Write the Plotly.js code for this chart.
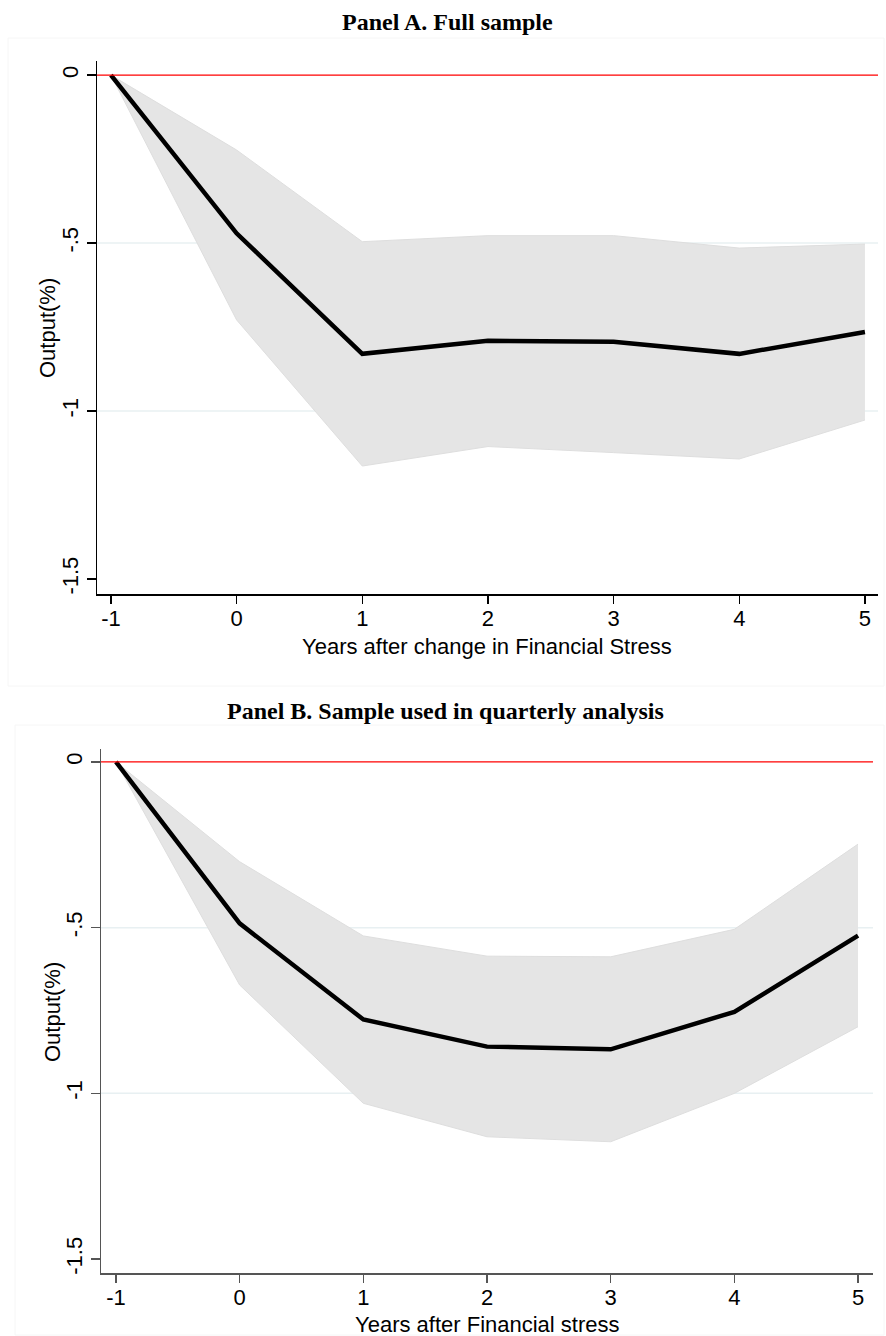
<!DOCTYPE html>
<html>
<head>
<meta charset="utf-8">
<script src="https://cdn.plot.ly/plotly-3.0.1.min.js"></script>
<style>html,body{margin:0;padding:0;background:#fff;}#chart{width:886px;height:1336px;}</style>
</head>
<body>
<div id="chart"></div>
<script>
// Horizon (years)
const years = [-1, 0, 1, 2, 3, 4, 5];
const yTickVals = [0, -0.5, -1, -1.5];
const yTickText = ["0", "-.5", "-1", "-1.5"];

// Panel A: Full sample
const aMean  = [0, -0.471, -0.830, -0.791, -0.794, -0.830, -0.765];
const aUpper = [0, -0.223, -0.496, -0.478, -0.478, -0.515, -0.503];
const aLower = [0, -0.729, -1.164, -1.106, -1.124, -1.143, -1.027];

// Panel B: Sample used in quarterly analysis
const bMean  = [0, -0.487, -0.777, -0.859, -0.867, -0.754, -0.524];
const bUpper = [0, -0.301, -0.525, -0.586, -0.588, -0.505, -0.248];
const bLower = [0, -0.673, -1.030, -1.131, -1.146, -1.000, -0.799];

const W = 886, H = 1336;
const bandFill = "#e5e5e5", bandEdge = "#dedede";
const gridCol = "#e8f0f2";
const tickFont = {family: "Liberation Sans, Arial, sans-serif", size: 22, color: "#000"};
const labFont = {family: "Liberation Sans, Arial, sans-serif", size: 22, color: "#000"};

function bandTraces(lower, upper, mean, xa, ya) {
  return [
    {x: years, y: lower, xaxis: xa, yaxis: ya, mode: "lines", line: {color: bandEdge, width: 1}, hoverinfo: "skip", showlegend: false},
    {x: years, y: upper, xaxis: xa, yaxis: ya, mode: "lines", line: {color: bandEdge, width: 1}, fill: "tonexty", fillcolor: bandFill, hoverinfo: "skip", showlegend: false},
    {x: years, y: mean, xaxis: xa, yaxis: ya, mode: "lines", line: {color: "#000", width: 4.5}, showlegend: false}
  ];
}

const data = [].concat(
  bandTraces(aLower, aUpper, aMean, "x", "y"),
  bandTraces(bLower, bUpper, bMean, "x2", "y2")
);

function xAxis(domain, range, lineCol, anchor) {
  return {
    domain: domain, range: range, anchor: anchor,
    tickvals: years, ticktext: years.map(String),
    ticks: "outside", ticklen: 8, tickwidth: 1.3, tickcolor: lineCol,
    ticklabelstandoff: -4,
    showline: true, linecolor: lineCol, linewidth: 1.5,
    showgrid: false, zeroline: false, tickfont: tickFont
  };
}
function yAxis(domain, range, lineCol, anchor) {
  return {
    domain: domain, range: range, anchor: anchor,
    tickvals: yTickVals, ticktext: yTickText, tickangle: -90,
    ticks: "outside", ticklen: 9, tickwidth: 1.3, tickcolor: lineCol,
    showline: true, linecolor: lineCol, linewidth: 1.5,
    showgrid: false, zeroline: false, tickfont: tickFont
  };
}

const shapes = [];
function panelShapes(xr, yr) {
  [-0.5, -1].forEach(v => shapes.push({type: "line", layer: "below", xref: xr + " domain", x0: 0, x1: 1, yref: yr, y0: v, y1: v, line: {color: gridCol, width: 1.5}}));
  shapes.push({type: "line", layer: "above", xref: xr + " domain", x0: 0, x1: 1, yref: yr, y0: 0, y1: 0, line: {color: "#ff0000", width: 1.3}});
}
panelShapes("x", "y");
panelShapes("x2", "y2");
// faint outer graph-region boxes
shapes.push({type: "rect", xref: "paper", yref: "paper", x0: 8/W, x1: 884/W, y0: 1 - 686/H, y1: 1 - 38/H, line: {color: "#f6f6f6", width: 1}, layer: "below"});
shapes.push({type: "rect", xref: "paper", yref: "paper", x0: 15/W, x1: 884/W, y0: 1 - 1335/H, y1: 1 - 725/H, line: {color: "#f6f6f6", width: 1}, layer: "below"});

const titleFont = {family: "Liberation Serif, Times New Roman, serif", size: 24, color: "#000"};
function note(text, px, py, font, angle) {
  return {text: text, xref: "paper", yref: "paper", x: px/W, y: 1 - py/H, showarrow: false, font: font, xanchor: "center", yanchor: "middle", textangle: angle || 0};
}

const layout = {
  width: W, height: H,
  margin: {l: 0, r: 0, t: 0, b: 0},
  paper_bgcolor: "#fff", plot_bgcolor: "rgba(0,0,0,0)",
  showlegend: false,
  xaxis:  xAxis([97/W, 878/W], [-1.111, 5.104], "#000", "y"),
  yaxis:  yAxis([1 - 594/H, 1 - 61/H], [-1.545, 0.042], "#000", "x"),
  xaxis2: xAxis([101/W, 873/W], [-1.121, 5.121], "#555", "y2"),
  yaxis2: yAxis([1 - 1273/H, 1 - 749/H], [-1.542, 0.039], "#555", "x2"),
  shapes: shapes,
  annotations: [
    note("<b>Panel A. Full sample</b>", 447, 22, titleFont),
    note("<b>Panel B. Sample used in quarterly analysis</b>", 446, 711, titleFont),
    note("Years after change in Financial Stress", 487, 647, labFont),
    note("Years after Financial stress", 487, 1324, labFont),
    note("Output(%)", 47, 328, labFont, -90),
    note("Output(%)", 52, 1012, labFont, -90)
  ]
};

Plotly.newPlot("chart", data, layout, {displayModeBar: false, staticPlot: true});
</script>
</body>
</html>
